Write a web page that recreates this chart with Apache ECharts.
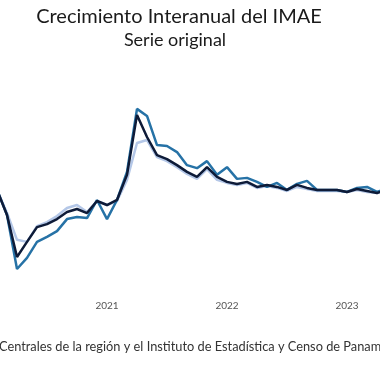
<!DOCTYPE html>
<html>
<head>
<meta charset="utf-8">
<script src="https://cdn.jsdelivr.net/npm/echarts@6/dist/echarts.min.js"></script>
<style>html,body{margin:0;padding:0;background:#fff}#c{width:380px;height:380px}</style>
</head>
<body>
<div id="c"></div>
<script>
var months = ["2020-01","2020-02","2020-03","2020-04","2020-05","2020-06","2020-07","2020-08","2020-09","2020-10","2020-11","2020-12",
"2021-01","2021-02","2021-03","2021-04","2021-05","2021-06","2021-07","2021-08","2021-09","2021-10","2021-11","2021-12",
"2022-01","2022-02","2022-03","2022-04","2022-05","2022-06","2022-07","2022-08","2022-09","2022-10","2022-11","2022-12",
"2023-01","2023-02","2023-03","2023-04","2023-05"];
var serieLight = [4.5,3.9,-3.0,-11.0,-11.6,-6.9,-5.7,-3.9,-1.5,-0.6,-2.7,0.6,
-0.6,0.6,6.9,17.9,18.8,13.7,12.5,10.7,8.7,7.2,10.1,6.9,
6.0,5.4,6.0,4.5,5.1,4.5,3.6,4.8,4.2,3.6,3.6,3.6,
3.3,3.9,3.3,3.0,3.6];
var serieMedium = [4.5,3.9,-3.6,-19.7,-16.4,-11.6,-10.1,-8.4,-4.8,-4.2,-4.5,0.9,
-4.8,0.9,9.3,28.1,26.0,17.3,17.0,15.2,11.3,10.4,12.5,8.4,
10.7,7.2,7.5,6.3,4.8,6.0,3.9,5.7,6.6,3.9,3.9,3.9,
3.3,4.5,4.8,3.3,4.5];
var serieDark = [4.5,3.9,-3.6,-16.1,-11.6,-7.2,-6.3,-4.8,-2.7,-1.8,-3.0,0.6,
-0.6,0.9,8.4,26.3,19.7,14.3,13.1,11.3,9.3,7.8,10.7,7.8,
6.3,5.7,6.3,4.8,5.4,4.8,3.9,5.4,4.5,3.9,3.9,3.9,
3.3,4.2,3.6,3.0,3.9];
var titleText = "Crecimiento Interanual del IMAE";
var subtitleText = "Serie original";
var sourceText = "Centrales de la región y el Instituto de Estadística y Censo de Panamá";

var chart = echarts.init(document.getElementById('c'), null, {renderer:'canvas'});
var FONT = "Lato, 'Open Sans', sans-serif";
chart.setOption({
  animation:false,
  backgroundColor:'#ffffff',
  grid:{left:-13, right:-7, top:69, bottom:83.2, containLabel:false, outerBoundsMode:'none'},
  xAxis:{
    type:'category', data:months, boundaryGap:false,
    axisLine:{show:false}, axisTick:{show:false}, splitLine:{show:false},
    axisLabel:{
      margin:4, color:'#555', fontSize:10, fontFamily:FONT,
      interval:function(i,v){return v.slice(5)==='01';},
      formatter:function(v){return v.slice(0,4);}
    }
  },
  yAxis:{type:'value', min:-28, max:40, show:false, splitLine:{show:false}},
  series:[
    {type:'line', data:serieLight, symbol:'none', lineStyle:{color:'#b4c7e7', width:2.5}, z:1},
    {type:'line', data:serieMedium, symbol:'none', lineStyle:{color:'#2672a6', width:2.5}, z:2},
    {type:'line', data:serieDark, symbol:'none', lineStyle:{color:'#0e1b38', width:2.5}, z:3}
  ],
  graphic:[
    {type:'text', x:179, y:17, style:{text:titleText, fill:'#1a1a1a', font:"20px "+FONT, textAlign:'center', textVerticalAlign:'middle'}},
    {type:'text', x:175, y:40, style:{text:subtitleText, fill:'#1a1a1a', font:"18px "+FONT, textAlign:'center', textVerticalAlign:'middle'}},
    {type:'text', x:-1, y:347, style:{text:sourceText, fill:'#333', font:"12.8px "+FONT, textAlign:'left', textVerticalAlign:'middle'}}
  ]
});
</script>
</body>
</html>
